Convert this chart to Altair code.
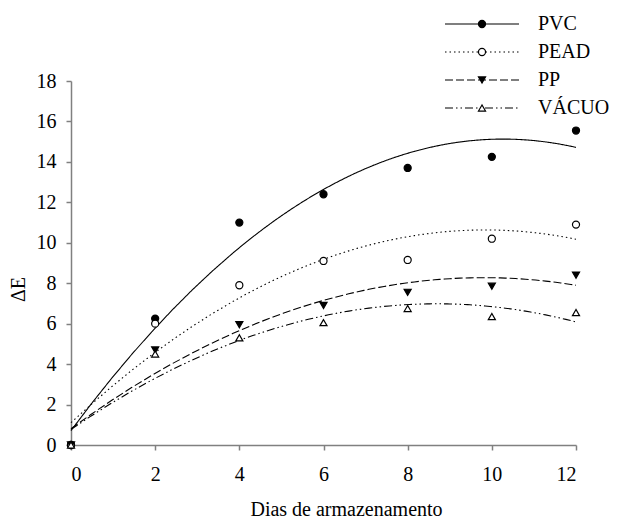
import altair as alt
import pandas as pd

days = [0, 2, 4, 6, 8, 10, 12]
series = ["PVC", "PEAD", "PP", "VÁCUO"]
pvc = [0, 6.25, 11.0, 12.4, 13.7, 14.25, 15.55]
pead = [0, 6.0, 7.9, 9.1, 9.15, 10.2, 10.9]
pp = [0, 4.7, 5.95, 6.9, 7.55, 7.85, 8.4]
vacuo = [0, 4.5, 5.3, 6.05, 6.75, 6.35, 6.55]

values = {"PVC": pvc, "PEAD": pead, "PP": pp, "VÁCUO": vacuo}
rows = []
for s in series:
    for d, v in zip(days, values[s]):
        rows.append({"series": s, "day": d, "value": v})
df = pd.DataFrame(rows)
leg = pd.DataFrame({"series": series})

FONT = "Liberation Serif"

dash_scale = alt.Scale(domain=series, range=[[1, 0], [1.5, 3], [8, 3], [8, 3, 1.5, 3, 1.5, 3]])
shape_scale = alt.Scale(domain=series, range=["circle", "circle", "triangle-down", "triangle-up"])
fill_scale = alt.Scale(domain=series, range=["black", "white", "black", "white"])

x_enc = alt.X("day:Q", scale=alt.Scale(domain=[0, 12], nice=False),
              axis=alt.Axis(values=days, title="Dias de armazenamento",
                            titleX=275, titleY=70, titleBaseline="alphabetic",
                            labelPadding=14))
y_enc = alt.Y("value:Q", scale=alt.Scale(domain=[0, 18], nice=False),
              axis=alt.Axis(values=list(range(0, 19, 2)), title="ΔE",
                            titleAngle=270, titleX=-53, titleY=208,
                            titleBaseline="middle", titleAlign="center",
                            labelPadding=10))

base = alt.Chart(df)

lines = base.transform_regression(
    "day", "value", groupby=["series"], method="poly", order=2, extent=[0, 12]
).mark_line(color="black", strokeWidth=1.1).encode(
    x=x_enc, y=y_enc,
    strokeDash=alt.StrokeDash("series:N", scale=dash_scale, legend=None),
    detail="series:N",
)

points = base.mark_point(filled=False, stroke="black", strokeWidth=1.2, size=50, opacity=1).encode(
    x="day:Q", y="value:Q",
    shape=alt.Shape("series:N", scale=shape_scale, legend=None),
    fill=alt.Fill("series:N", scale=fill_scale, legend=None),
)

main = alt.layer(lines, points)

ly = alt.Y("series:N", scale=alt.Scale(domain=series, range=[-57, 27], padding=0, type="point"), axis=None)

leg_rule = alt.Chart(leg).mark_rule(color="black", strokeWidth=1.1).encode(
    x=alt.value(374), x2=alt.value(448), y=ly,
    strokeDash=alt.StrokeDash("series:N", scale=dash_scale, legend=None),
)
leg_pts = alt.Chart(leg).mark_point(stroke="black", strokeWidth=1.2, size=50, opacity=1).encode(
    x=alt.value(411), y=ly,
    shape=alt.Shape("series:N", scale=shape_scale, legend=None),
    fill=alt.Fill("series:N", scale=fill_scale, legend=None),
)
leg_txt = alt.Chart(leg).mark_text(align="left", baseline="middle", font=FONT, fontSize=20, color="black").encode(
    x=alt.value(467), y=ly, text="series:N",
)

legend_layer = alt.layer(leg_rule, leg_pts, leg_txt)

chart = alt.layer(main, legend_layer).resolve_scale(y="independent").properties(
    width=505, height=364,
    autosize=alt.AutoSizeParams(type="none"),
    padding={"left": 71, "top": 81, "right": 46, "bottom": 77},
).configure_view(stroke=None).configure_axis(
    grid=False, domainColor="#808080", tickColor="#808080", domainWidth=1.5, tickWidth=1.5,
    tickSize=5, labelFont=FONT, labelFontSize=20, labelColor="black",
    titleFont=FONT, titleFontSize=20, titleFontWeight="normal", titleColor="black",
)

chart.save("out.html", embed_options={"renderer": "svg", "actions": False})
